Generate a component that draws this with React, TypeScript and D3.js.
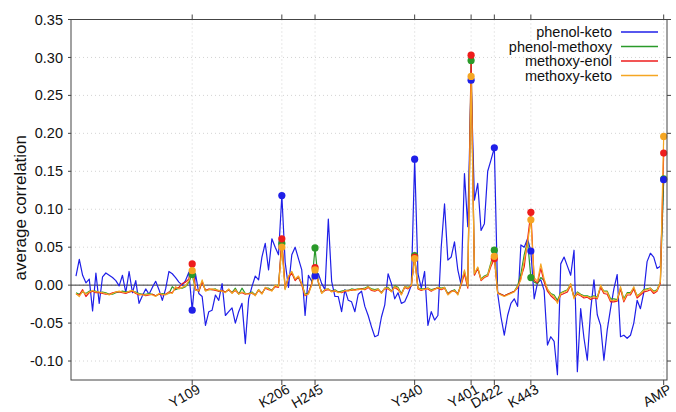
import React from "react";
import * as d3 from "d3";

// ---- data -------------------------------------------------------------
const seriesNames = ["phenol-keto", "phenol-methoxy", "methoxy-enol", "methoxy-keto"];
const seriesColors = ["#1f1fe8", "#2a9a2a", "#ee1c1c", "#f5a623"];

const tickLabels = ["Y109", "K206", "H245", "Y340", "Y401", "D422", "K443", "AMP"];
const tickIndex = [35, 62, 72, 102, 119, 126, 137, 177];

const yTicks = [-0.1, -0.05, 0, 0.05, 0.1, 0.15, 0.2, 0.25, 0.3, 0.35];

const phenolKeto = [
  0.012, 0.034, 0.013, 0.003, 0.008, -0.034, 0.016, -0.024, 0.011, 0.016, 0.013, 0.010, 0.006, -0.001, 0.013, -0.010, 0.018, -0.010, 0.006, -0.024, -0.014, -0.005, -0.012, -0.003, 0.005, -0.006, -0.020, -0.005, 0.018, 0.015, 0.010, 0.004, 0.000, 0.006, 0.017, -0.033,
  0.015, -0.011, -0.015, -0.053, -0.035, -0.033, -0.013, -0.020, 0.002, -0.040, -0.035, -0.030, -0.050, -0.035, -0.024, -0.077, -0.018, -0.002, 0.012, 0.007, 0.037, 0.055, 0.020, 0.061, 0.050, 0.040, 0.118,
  0.030, -0.003, 0.040, 0.050, 0.035, 0.020, -0.040, 0.013, 0.005, 0.012,
  0.015, 0.002, -0.006, 0.087, 0.005, -0.015, -0.015, -0.035, -0.006, -0.020, -0.022, -0.035, -0.012, -0.008, -0.028, -0.040, -0.055, -0.068, -0.066, -0.042, -0.026, 0.015, 0.002, -0.018, -0.010, -0.024, -0.022, -0.012, 0.000, 0.166,
  0.015, -0.004, 0.018, -0.053, -0.035, -0.046, -0.040, 0.050, 0.107, 0.033, 0.037, 0.057, 0.020, 0.000, 0.147, 0.077, 0.270,
  0.112, 0.134, 0.072, 0.081, 0.150, 0.165, 0.181,
  -0.011, -0.042, -0.066, -0.040, -0.024, -0.018, -0.028, 0.053, 0.050, 0.061, 0.045,
  -0.018, 0.003, 0.007, -0.007, -0.079, -0.068, -0.074, -0.118, 0.028, 0.037, 0.025, 0.013, 0.046, -0.114, -0.031, -0.070, -0.099, -0.033, 0.007, -0.039, -0.053, -0.099, -0.059, -0.031, -0.005, 0.014, -0.068, -0.066, -0.070, -0.066, -0.050, -0.020, -0.031, -0.010, 0.031, 0.042, 0.037, 0.022, 0.025, 0.139,
];

const phenolMethoxy = [
  -0.010, -0.012, -0.009, -0.011, -0.008, -0.008, -0.008, -0.010, -0.009, -0.010, -0.012, -0.012, -0.010, -0.009, -0.008, -0.009, -0.009, -0.008, -0.009, -0.011, -0.012, -0.012, -0.011, -0.012, -0.014, -0.012, -0.011, -0.012, -0.011, -0.002, -0.006, -0.004, -0.004, -0.002, 0.004, 0.014,
  -0.006, -0.008, 0.005, -0.007, -0.006, -0.006, -0.005, -0.008, -0.007, -0.009, -0.006, -0.010, -0.004, -0.012, -0.004, -0.011, -0.011, -0.009, -0.013, -0.006, -0.011, -0.004, -0.004, -0.007, -0.001, 0.000, 0.055,
  -0.005, 0.011, 0.017, 0.007, 0.010, 0.002, -0.012, -0.010, 0.001, 0.049,
  0.003, -0.010, -0.006, -0.005, -0.008, -0.006, -0.009, -0.008, -0.007, -0.007, -0.005, -0.006, -0.005, -0.005, -0.004, -0.002, -0.005, -0.006, -0.005, -0.010, -0.004, -0.003, -0.008, -0.001, -0.003, -0.011, -0.002, -0.003, 0.000, 0.039,
  -0.004, -0.005, -0.005, -0.004, -0.006, -0.005, -0.003, -0.004, -0.003, -0.011, -0.008, -0.006, -0.012, 0.002, 0.018, -0.001, 0.296,
  0.014, 0.023, 0.008, 0.012, 0.014, 0.030, 0.046,
  -0.010, -0.012, -0.014, -0.012, -0.010, -0.008, -0.001, 0.015, 0.040, 0.058, 0.010,
  0.004, 0.002, 0.010, 0.006, -0.006, -0.011, -0.013, -0.020, -0.010, -0.008, -0.006, 0.001, -0.016, -0.009, -0.012, -0.014, -0.014, -0.016, -0.014, -0.016, -0.002, -0.008, -0.008, -0.018, -0.018, -0.019, -0.004, -0.018, -0.010, -0.010, -0.004, -0.014, -0.011, -0.006, -0.005, -0.004, -0.008, -0.006, 0.004, 0.140,
];

const methoxyEnol = [
  -0.012, -0.013, -0.006, -0.015, -0.010, -0.008, -0.010, -0.010, -0.011, -0.012, -0.012, -0.010, -0.009, -0.009, -0.010, -0.011, -0.009, -0.008, -0.011, -0.013, -0.012, -0.014, -0.013, -0.012, -0.014, -0.012, -0.013, -0.012, -0.009, -0.010, -0.004, -0.003, 0.002, 0.004, 0.008, 0.028,
  -0.005, -0.008, 0.004, -0.007, -0.005, -0.006, -0.007, -0.008, -0.007, -0.009, -0.006, -0.010, -0.007, -0.011, -0.010, -0.012, -0.011, -0.011, -0.013, -0.007, -0.011, -0.004, -0.006, -0.007, -0.002, -0.003, 0.061,
  -0.004, 0.010, 0.016, 0.006, 0.011, 0.000, -0.014, -0.011, 0.002, 0.023,
  0.004, -0.010, -0.007, -0.006, -0.008, -0.008, -0.009, -0.010, -0.008, -0.007, -0.007, -0.006, -0.006, -0.005, -0.006, -0.003, -0.007, -0.008, -0.006, -0.010, -0.005, -0.005, -0.008, -0.003, -0.006, -0.012, -0.003, -0.005, -0.001, 0.037,
  -0.005, -0.007, -0.005, -0.005, -0.008, -0.005, -0.004, -0.006, -0.004, -0.012, -0.008, -0.008, -0.011, 0.000, 0.015, -0.004, 0.303,
  0.013, 0.022, 0.006, 0.010, 0.012, 0.025, 0.035,
  -0.010, -0.012, -0.014, -0.012, -0.010, -0.008, -0.004, 0.010, 0.024, 0.060, 0.096,
  0.006, 0.003, 0.022, 0.004, -0.008, -0.014, -0.018, -0.022, -0.013, -0.011, -0.009, 0.000, -0.016, -0.012, -0.014, -0.017, -0.016, -0.019, -0.017, -0.018, -0.003, -0.011, -0.012, -0.022, -0.022, -0.021, -0.005, -0.022, -0.013, -0.013, -0.005, -0.017, -0.013, -0.009, -0.008, -0.006, -0.011, -0.008, 0.002, 0.174,
];

const methoxyKeto = [
  -0.011, -0.015, -0.008, -0.012, -0.009, -0.007, -0.009, -0.009, -0.010, -0.011, -0.013, -0.011, -0.009, -0.008, -0.009, -0.010, -0.008, -0.007, -0.010, -0.012, -0.013, -0.013, -0.012, -0.013, -0.015, -0.011, -0.012, -0.013, -0.010, -0.011, -0.002, -0.005, -0.003, -0.001, 0.006, 0.019,
  -0.007, -0.007, 0.007, -0.008, -0.006, -0.005, -0.006, -0.007, -0.008, -0.010, -0.005, -0.011, -0.006, -0.012, -0.009, -0.011, -0.012, -0.010, -0.014, -0.006, -0.012, -0.003, -0.005, -0.008, 0.000, -0.002, 0.050,
  -0.006, 0.012, 0.018, 0.008, 0.012, 0.002, -0.013, -0.012, 0.000, 0.020,
  0.005, -0.011, -0.006, -0.005, -0.009, -0.007, -0.010, -0.009, -0.007, -0.008, -0.006, -0.007, -0.005, -0.006, -0.005, -0.002, -0.006, -0.007, -0.005, -0.011, -0.004, -0.004, -0.009, -0.002, -0.004, -0.013, -0.002, -0.004, 0.000, 0.035,
  -0.004, -0.006, -0.006, -0.004, -0.007, -0.006, -0.003, -0.005, -0.003, -0.013, -0.009, -0.007, -0.013, 0.002, 0.020, -0.002, 0.275,
  0.015, 0.024, 0.007, 0.011, 0.013, 0.028, 0.038,
  -0.011, -0.013, -0.015, -0.013, -0.011, -0.009, -0.002, 0.007, 0.033, 0.055, 0.086,
  0.010, 0.005, 0.028, 0.008, -0.005, -0.012, -0.015, -0.024, -0.011, -0.009, -0.007, 0.002, -0.018, -0.010, -0.013, -0.015, -0.015, -0.017, -0.015, -0.017, 0.000, -0.009, -0.009, -0.020, -0.020, -0.020, -0.002, -0.020, -0.011, -0.011, -0.002, -0.015, -0.011, -0.007, -0.006, -0.004, -0.009, -0.007, 0.004, 0.196,
];

const allSeries = [phenolKeto, phenolMethoxy, methoxyEnol, methoxyKeto];
// drawing order of the highlighted markers (bottom to top)
const markerOrder = [1, 0, 2, 3];

// ---- layout -----------------------------------------------------------
const W = 676;
const H = 412;
const left = 71;
const right = 667;
const top = 19.5;
const bottom = 380;
const FONT = "'Liberation Sans', Arial, Helvetica, sans-serif";

export default function App() {
  const x = d3.scaleLinear().domain([-1.5, 178]).range([left, right]);
  const y = d3.scaleLinear().domain([-0.125, 0.35]).range([bottom, top]);
  const line = d3
    .line<number>()
    .x((_, i) => x(i))
    .y((d) => y(d));

  return (
    <svg
      width={W}
      height={H}
      style={{ position: "absolute", left: 0, top: 0, background: "#fff" }}
      fontFamily={FONT}
    >
      <rect x={0} y={0} width={W} height={H} fill="#fff" />
      {/* grid */}
      {yTicks.map((t) => (
        <line
          key={"gy" + t}
          x1={left}
          x2={right}
          y1={y(t)}
          y2={y(t)}
          stroke="#c8c8c8"
          strokeWidth={0.8}
          strokeDasharray="1,3"
        />
      ))}
      {tickIndex.map((t) => (
        <line
          key={"gx" + t}
          x1={x(t)}
          x2={x(t)}
          y1={top}
          y2={bottom}
          stroke="#c8c8c8"
          strokeWidth={0.8}
          strokeDasharray="1,3"
        />
      ))}
      {/* zero line */}
      <line x1={left} x2={right} y1={y(0)} y2={y(0)} stroke="#333" strokeWidth={1} />

      {/* series lines */}
      {allSeries.map((s, k) => (
        <path
          key={"l" + k}
          d={line(s) || ""}
          fill="none"
          stroke={seriesColors[k]}
          strokeWidth={1.2}
          strokeLinejoin="round"
        />
      ))}

      {/* highlighted markers */}
      {markerOrder.map((k) =>
        tickIndex.map((t) => (
          <circle
            key={"m" + k + "-" + t}
            cx={x(t)}
            cy={y(allSeries[k][t])}
            r={3.6}
            fill={seriesColors[k]}
          />
        ))
      )}

      {/* border */}
      <rect
        x={left}
        y={top}
        width={right - left}
        height={bottom - top}
        fill="none"
        stroke="#444"
        strokeWidth={1}
      />

      {/* y ticks */}
      {yTicks.map((t) => (
        <g key={"ty" + t}>
          <line x1={left - 3} x2={left} y1={y(t)} y2={y(t)} stroke="#444" />
          <line x1={right} x2={right + 4} y1={y(t)} y2={y(t)} stroke="#444" />
          <text
            x={63}
            y={y(t)}
            dy="0.35em"
            textAnchor="end"
            fontSize={14.5}
            fill="#111"
          >
            {t.toFixed(2)}
          </text>
        </g>
      ))}

      {/* x ticks */}
      {tickIndex.map((t, j) => {
        const tx = x(t) + 9;
        const ty = bottom + 12;
        return (
          <g key={"tx" + t}>
            <line x1={x(t)} x2={x(t)} y1={bottom} y2={bottom + 5} stroke="#444" />
            <line x1={x(t)} x2={x(t)} y1={top - 5} y2={top} stroke="#444" />
            <text
              x={tx}
              y={ty}
              transform={`rotate(-30 ${tx} ${ty})`}
              textAnchor="end"
              fontSize={14}
              fill="#111"
            >
              {tickLabels[j]}
            </text>
          </g>
        );
      })}

      {/* y axis title */}
      <text
        x={26}
        y={(top + bottom) / 2 + 8}
        transform={`rotate(-90 26 ${(top + bottom) / 2 + 8})`}
        textAnchor="middle"
        fontSize={17}
        fill="#111"
      >
        average correlation
      </text>

      {/* legend */}
      {seriesNames.map((n, k) => (
        <g key={"lg" + n}>
          <text
            x={612}
            y={32 + k * 14.5}
            dy="0.35em"
            textAnchor="end"
            fontSize={14.5}
            fill="#111"
          >
            {n}
          </text>
          <line
            x1={621}
            x2={658}
            y1={32 + k * 14.5}
            y2={32 + k * 14.5}
            stroke={seriesColors[k]}
            strokeWidth={1.4}
          />
        </g>
      ))}
    </svg>
  );
}
